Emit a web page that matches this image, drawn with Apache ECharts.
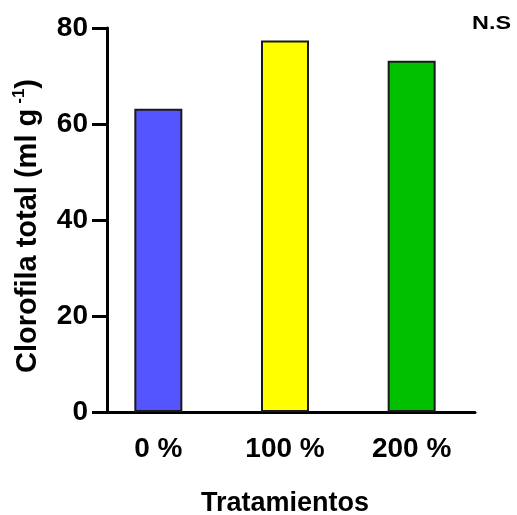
<!DOCTYPE html>
<html>
<head>
<meta charset="utf-8">
<script src="https://cdn.jsdelivr.net/npm/echarts@6/dist/echarts.min.js"></script>
<style>html,body{margin:0;padding:0;background:#fff}#c{width:517px;height:515px}</style>
</head>
<body>
<div id="c"></div>
<script>
var categories = ['0 %', '100 %', '200 %'];
var values = [63.2, 77.4, 73.2];
var barColors = ['#5555FF', '#FFFF00', '#00C000'];
var yTicks = [0, 20, 40, 60, 80];

var FONT = '"Liberation Sans", Arial, Helvetica, sans-serif';
var chart = echarts.init(document.getElementById('c'), null, {renderer: 'canvas'});
chart.setOption({
  animation: false,
  backgroundColor: '#fff',
  grid: {left: 95, right: 42, top: 28, bottom: 103, containLabel: false, outerBoundsMode: 'none'},
  xAxis: {
    type: 'category',
    data: categories,
    name: 'Tratamientos',
    nameLocation: 'middle',
    nameGap: 78,
    nameTextStyle: {fontFamily: FONT, fontWeight: 'bold', fontSize: 27, color: '#000', verticalAlign: 'top'},
    axisLine: {lineStyle: {color: '#000', width: 3}},
    axisTick: {alignWithLabel: true, length: 15, lineStyle: {color: '#000', width: 3}},
    axisLabel: {fontFamily: FONT, fontWeight: 'bold', fontSize: 28, color: '#000', margin: 23}
  },
  yAxis: {
    type: 'value',
    min: yTicks[0],
    max: yTicks[yTicks.length - 1],
    interval: 20,
    offset: -12,
    name: '{m|Clorofila total (ml g}{s|-1}{m|)}',
    nameLocation: 'middle',
    nameGap: 63,
    nameRotate: 90,
    nameTextStyle: {
      fontFamily: FONT, fontWeight: 'bold', fontSize: 29, color: '#000',
      padding: [0, 12, 0, 0],
      rich: {
        m: {fontFamily: FONT, fontWeight: 'bold', fontSize: 29, color: '#000', lineHeight: 33},
        s: {fontFamily: FONT, fontWeight: 'bold', fontSize: 17, color: '#000', lineHeight: 33, verticalAlign: 'top', padding: [0, 0, 0, 5]}
      }
    },
    splitLine: {show: false},
    axisLine: {show: true, lineStyle: {color: '#000', width: 3}},
    axisTick: {show: true, length: 15, lineStyle: {color: '#000', width: 3}},
    axisLabel: {fontFamily: FONT, fontWeight: 'bold', fontSize: 28, color: '#000', margin: 19}
  },
  graphic: [{
    type: 'text', left: 472, top: 15, scaleX: 1.3,
    style: {text: 'N.S', fontFamily: FONT, fontWeight: 'bold', fontSize: 18, fill: '#000'}
  }],
  series: [{
    type: 'bar',
    barWidth: 48,
    data: values.map(function (v, i) {
      return {value: v, itemStyle: {color: barColors[i], borderColor: '#1a1a1a', borderWidth: 2}};
    })
  }]
});
</script>
</body>
</html>
